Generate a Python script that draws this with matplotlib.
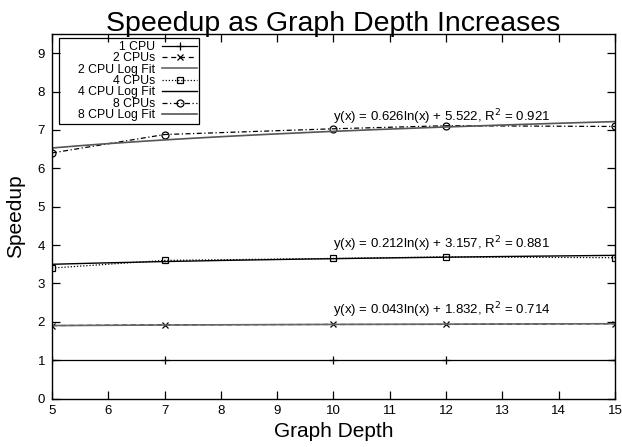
import numpy as np
import matplotlib
matplotlib.use("Agg")
import matplotlib.pyplot as plt
from matplotlib.patches import Rectangle

plt.rcParams['font.family'] = ['Liberation Sans', 'DejaVu Sans']

depth = [5, 7, 10, 12, 15]
cpu1 = [1.0, 1.0, 1.0, 1.0, 1.0]
cpu2 = [1.90, 1.92, 1.93, 1.93, 1.95]
cpu4 = [3.40, 3.60, 3.65, 3.69, 3.67]
cpu8 = [6.40, 6.88, 7.03, 7.11, 7.09]

# log fit coefficients: y = a ln(x) + b, and R^2
fit2 = (0.043, 1.832, 0.714)
fit4 = (0.212, 3.157, 0.881)
fit8 = (0.626, 5.522, 0.921)

fig = plt.figure(figsize=(6.22, 4.47), dpi=100)
ax = fig.add_axes([0.0836, 0.1085, 0.9051, 0.8154])

xx = np.linspace(5, 15, 200)

ax.plot(depth, cpu1, color='black', lw=0.9, marker='+', ms=6, mew=0.9, label='1 CPU')
ax.plot(depth, cpu2, color='black', lw=0.9, ls=(0, (4, 3)), marker='x', ms=4, mew=0.9, label='2 CPUs')
ax.plot(xx, fit2[0] * np.log(xx) + fit2[1], color='#666666', lw=1.2, label='2 CPU Log Fit')
ax.plot(depth, cpu4, color='black', lw=0.9, ls=(0, (1, 1.5)), marker='s', ms=5, mfc='none', mew=0.9,
        label='4 CPUs')
ax.plot(xx, fit4[0] * np.log(xx) + fit4[1], color='black', lw=1.0, label='4 CPU Log Fit')
ax.plot(depth, cpu8, color='black', lw=0.9, ls=(0, (4, 2, 1, 2)), marker='o', ms=5, mfc='none', mew=0.9,
        label='8 CPUs')
ax.plot(xx, fit8[0] * np.log(xx) + fit8[1], color='#555555', lw=1.2, label='8 CPU Log Fit')

for a, b, r2 in [fit2, fit4, fit8]:
    ytxt = a * np.log(10) + b + 0.38
    ax.text(10, ytxt, 'y(x) = %.3fln(x) + %.3f, R$^2$ = %.3f' % (a, b, r2),
            fontsize=9.5, ha='left', va='center')

ax.set_xlim(5, 15)
ax.set_ylim(0, 9.5)
ax.set_xticks(range(5, 16))
ax.set_yticks(range(0, 10))
ax.tick_params(direction='in', top=True, right=True, length=6, width=0.9, labelsize=9.5, pad=5)
for s in ax.spines.values():
    s.set_linewidth(1.0)

ax.set_title('Speedup as Graph Depth Increases', fontsize=20.5, pad=2)
ax.set_xlabel('Graph Depth', fontsize=15, labelpad=3)
ax.set_ylabel('Speedup', fontsize=15, labelpad=9)

# gnuplot style key: labels right-aligned, sample line on the right
leg = ax.legend(loc='upper right', markerfirst=False, fontsize=8.8, frameon=False,
                borderpad=0.2, labelspacing=-0.05, handlelength=2.85, handletextpad=0.55,
                borderaxespad=0, bbox_to_anchor=(0.262, 0.988))

# key box with the wide left margin gnuplot uses
fig.canvas.draw()
bb = leg.get_window_extent()
ax.add_patch(Rectangle((59, bb.y0), bb.x1 - 59, bb.height, transform=None,
                       fill=False, edgecolor='black', lw=0.9, zorder=5))

fig.savefig('out.png', dpi=100)
